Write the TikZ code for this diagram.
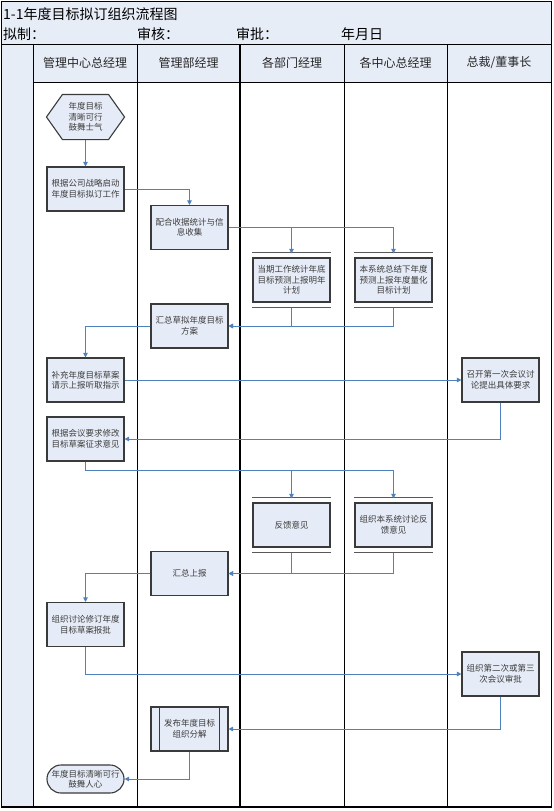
\documentclass[tikz,border=0pt]{standalone}
\usepackage{fontspec}
\setmainfont{Noto Sans CJK SC}
\usetikzlibrary{arrows.meta,calc,positioning}
\definecolor{FlowBg}{HTML}{E7EDF7}
\definecolor{FlowBox}{HTML}{E6ECF7}
\definecolor{FlowEdge}{HTML}{3A3A3A}
\definecolor{FlowLine}{HTML}{4F81BD}
\definecolor{FlowText}{HTML}{3C3C3C}
\pgfdeclarelayer{back}
\pgfsetlayers{back,main}

\begin{document}
\begin{tikzpicture}[
  x=1pt,y=-1pt,
  flow/.style={-{Triangle[length=4.5pt,width=4.5pt]},draw=FlowLine,line width=1pt},
  grid/.style={draw=black,line width=0.9pt},
  task/.style={draw=FlowEdge,fill=FlowBox,line width=1.1pt,
    minimum width=77pt,minimum height=44pt,inner sep=1pt,align=center,
    text=FlowText,font=\fontsize{8.5}{10.5}\selectfont},
  hexa/.style={task,draw=none,fill=none},
  term/.style={task,minimum height=28pt,rounded corners=14pt},
  bar/.style={draw=FlowEdge!85,line width=1.7pt},
  lanehead/.style={font=\fontsize{12}{14}\selectfont,text=black!85},
  title/.style={font=\fontsize{14}{16}\selectfont,text=black,inner sep=0pt}
]
\useasboundingbox (0,0) rectangle (554,811);

% frame, title rows and the five swim lanes
\begin{pgfonlayer}{back}
\fill[white] (0,0) rectangle (554,811);
\fill[FlowBg] (1,1) rectangle (551,807);
\fill[white] (33,82) rectangle (551,807);
\draw[grid] (1,1) rectangle (551,807);
\draw[grid] (1,44) -- (551,44);
\draw[grid] (33,82) -- (551,82);
\foreach \x in {33,137,344,447} \draw[grid] (\x,44) -- (\x,807);
\draw[grid,line width=1.5pt] (240,44) -- (240,807);
\draw[grid,line width=1.6pt] (1,807) -- (551,807);
\end{pgfonlayer}

\node[title,anchor=west] (ttl) at (3,14) {1-1年度目标拟订组织流程图};
\node[title,anchor=west] (drafter) at (3,34) {拟制：};
\node[title,anchor=west] (checker) at (137,34) {审核：};
\node[title,anchor=west] (approver) at (236,34) {审批：};
\node[title,anchor=west] (date) at (341,34) {年月日};

\node[lanehead] (h1) at (85,63) {管理中心总经理};
\node[lanehead] (h2) at (188.5,63) {管理部经理};
\node[lanehead] (h3) at (292,63) {各部门经理};
\node[lanehead] (h4) at (395.5,63) {各中心总经理};
\node[lanehead] (h5) at (499,63) {总裁/董事长};

% process steps
\node[hexa] (start) at (85.5,117) {年度目标\\清晰可行\\鼓舞士气};
\node[task] (launch) at (85.5,189) {根据公司战略启动\\年度目标拟订工作};
\node[task] (collect) at (189.5,227.5) {配合收据统计与信\\息收集};
\node[task] (plan3) at (291.5,280) {当期工作统计年底\\目标预测上报明年\\计划};
\node[task] (plan4) at (393.5,280) {本系统总结下年度\\预测上报年度量化\\目标计划};
\node[task] (draft) at (189.5,326) {汇总草拟年度目标\\方案};
\node[task] (supp) at (85.5,380) {补充年度目标草案\\请示上报听取指示};
\node[task] (meet1) at (500.5,380) {召开第一次会议讨\\论提出具体要求};
\node[task] (revise) at (85.5,439) {根据会议要求修改\\目标草案征求意见};
\node[task] (fb3) at (291.5,525) {反馈意见};
\node[task] (fb4) at (393.5,525) {组织本系统讨论反\\馈意见};
\node[task] (summ) at (189.5,573.5) {汇总上报};
\node[task] (approve) at (85.5,624.5) {组织讨论修订年度\\目标草案报批};
\node[task] (meet2) at (500.5,674) {组织第二次或第三\\次会议审批};
\node[task] (pub) at (189.5,729) {发布年度目标\\组织分解};
\node[term] (final) at (85.5,779) {年度目标清晰可行\\鼓舞人心};

\begin{pgfonlayer}{back}
\filldraw[fill=FlowBox,draw=FlowEdge,line width=1.1pt]
  (start.west) -- ([xshift=16pt]start.north west) -- ([xshift=-16pt]start.north east)
  -- (start.east) -- ([xshift=-16pt]start.south east) -- ([xshift=16pt]start.south west) -- cycle;
\end{pgfonlayer}

% parallel-task bars and side bars
\foreach \n in {plan3,plan4,fb3,fb4}{
  \draw[bar] ([yshift=5pt]\n.north west) -- ([yshift=5pt]\n.north east);
  \draw[bar] ([yshift=-5pt]\n.south west) -- ([yshift=-5pt]\n.south east);
}
\draw[draw=FlowEdge,line width=1.1pt] ([xshift=9pt]pub.north west) -- ([xshift=9pt]pub.south west);
\draw[draw=FlowEdge,line width=1.1pt] ([xshift=-9pt]pub.north east) -- ([xshift=-9pt]pub.south east);

% connectors
\draw[flow] (start) -- (launch);
\draw[flow] (launch.east) -| (collect.north);
\draw[flow] (collect.east) -| ([yshift=4pt]plan3.north);
\draw[flow] (collect.east) -| ([yshift=4pt]plan4.north);
\draw[flow] ([yshift=-5pt]plan3.south) |- (draft.east);
\draw[flow] ([yshift=-5pt]plan4.south) |- (draft.east);
\draw[flow] (draft.west) -| (supp.north);
\draw[flow] (supp) -- (meet1);
\draw[flow] (meet1.south) |- (revise.east);
\draw[flow] (revise.south) -- ++(0,9) -| ([yshift=4pt]fb3.north);
\draw[flow] (revise.south) -- ++(0,9) -| ([yshift=4pt]fb4.north);
\draw[flow] ([yshift=-5pt]fb3.south) |- (summ.east);
\draw[flow] ([yshift=-5pt]fb4.south) |- (summ.east);
\draw[flow] (summ.west) -| (approve.north);
\draw[flow] (approve.south) |- (meet2.west);
\draw[flow] (meet2.south) |- (pub.east);
\draw[flow] (pub.south) |- (final.east);

\end{tikzpicture}
\end{document}
